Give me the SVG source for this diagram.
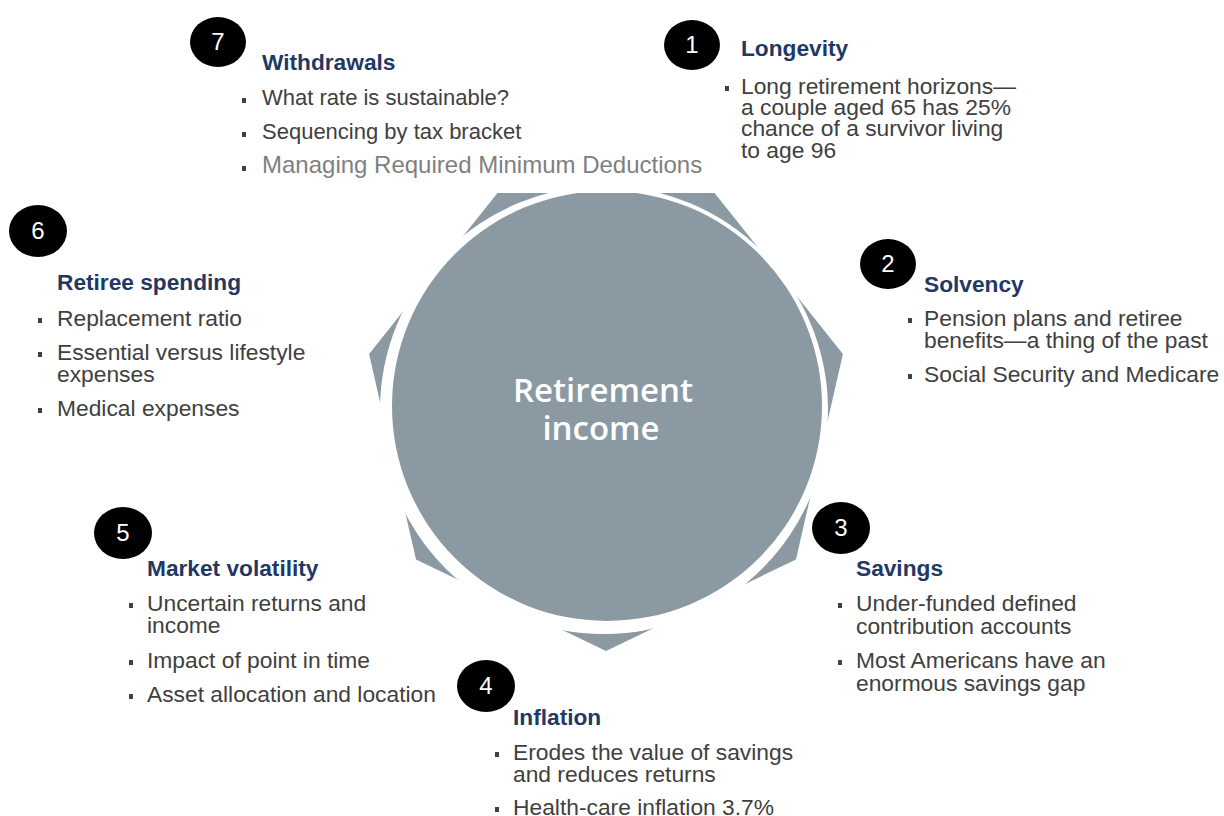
<svg xmlns="http://www.w3.org/2000/svg" width="1224" height="816" viewBox="0 0 1224 816">
  <defs>
    <clipPath id="topcut">
      <rect x="0" y="193" width="1224" height="623"/>
    </clipPath>
    <style>
      .hub { fill: #8b9aa2; }
      .badge { fill: #000000; }
      .num { font-family: "Liberation Sans", Arial, sans-serif; font-size: 24px; fill: #ffffff; text-anchor: middle; }
      .title { font-family: "Liberation Sans", Arial, sans-serif; font-size: 22.7px; font-weight: bold; fill: #1f3864; }
      .body { font-family: "Liberation Sans", Arial, sans-serif; font-size: 22.8px; fill: #404040; }
      .w22 { font-size: 22px; }
      .light { fill: #7f7f7f; font-size: 24px; }
      .bullet { fill: #404040; }
      .center { font-family: "Open Sans", "Liberation Sans", sans-serif; font-size: 33px; font-weight: 600; fill: #ffffff; text-anchor: middle; }
    </style>
  </defs>
  <rect width="1224" height="816" fill="#ffffff"/>

  <g id="hub" clip-path="url(#topcut)">
    <polygon class="hub" points="606,651 796,559.5 842.9,353.9 711.4,189.1 500.6,189.1 369.1,353.9 416,559.5"/>
    <circle cx="604" cy="410" r="224" fill="#ffffff"/>
    <circle class="hub" cx="607" cy="406" r="215"/>
    <text class="center" x="603" y="402">Retirement</text>
    <text class="center" x="601" y="440">income</text>
  </g>

  <g id="node-7-withdrawals">
    <ellipse class="badge" cx="218" cy="42" rx="28" ry="25"/>
    <text class="num" x="218" y="50">7</text>
    <text class="title" x="262" y="70">Withdrawals</text>
    <rect class="bullet" x="242" y="98" width="4" height="5"/>
    <text class="body w22" x="262" y="105">What rate is sustainable?</text>
    <rect class="bullet" x="242" y="132" width="4" height="5"/>
    <text class="body w22" x="262" y="139">Sequencing by tax bracket</text>
    <rect class="bullet" x="242" y="166" width="4" height="5"/>
    <text class="body light" x="262" y="173">Managing Required Minimum Deductions</text>
  </g>

  <g id="node-1-longevity">
    <ellipse class="badge" cx="692" cy="45" rx="28" ry="25"/>
    <text class="num" x="692" y="53">1</text>
    <text class="title" x="741" y="56">Longevity</text>
    <rect class="bullet" x="725" y="86" width="4" height="5"/>
    <text class="body" x="741" y="94">Long retirement horizons—</text>
    <text class="body" x="741" y="115">a couple aged 65 has 25%</text>
    <text class="body" x="741" y="136">chance of a survivor living</text>
    <text class="body" x="741" y="158">to age 96</text>
  </g>

  <g id="node-6-retiree-spending">
    <ellipse class="badge" cx="38" cy="231" rx="29" ry="26"/>
    <text class="num" x="38" y="239">6</text>
    <text class="title" x="57" y="290">Retiree spending</text>
    <rect class="bullet" x="38" y="318" width="4" height="5"/>
    <text class="body" x="57" y="326">Replacement ratio</text>
    <rect class="bullet" x="38" y="352" width="4" height="5"/>
    <text class="body" x="57" y="360">Essential versus lifestyle</text>
    <text class="body" x="57" y="382">expenses</text>
    <rect class="bullet" x="38" y="408" width="4" height="5"/>
    <text class="body" x="57" y="416">Medical expenses</text>
  </g>

  <g id="node-2-solvency">
    <ellipse class="badge" cx="888" cy="264" rx="28" ry="25"/>
    <text class="num" x="888" y="272">2</text>
    <text class="title" x="924" y="292">Solvency</text>
    <rect class="bullet" x="908" y="318" width="4" height="5"/>
    <text class="body" x="924" y="326">Pension plans and retiree</text>
    <text class="body" x="924" y="348">benefits—a thing of the past</text>
    <rect class="bullet" x="908" y="374" width="4" height="5"/>
    <text class="body" x="924" y="382">Social Security and Medicare</text>
  </g>

  <g id="node-5-market-volatility">
    <ellipse class="badge" cx="123" cy="533" rx="29" ry="26"/>
    <text class="num" x="123" y="541">5</text>
    <text class="title" x="147" y="576">Market volatility</text>
    <rect class="bullet" x="129" y="603" width="4" height="5"/>
    <text class="body" x="147" y="611">Uncertain returns and</text>
    <text class="body" x="147" y="633">income</text>
    <rect class="bullet" x="129" y="660" width="4" height="5"/>
    <text class="body" x="147" y="668">Impact of point in time</text>
    <rect class="bullet" x="129" y="694" width="4" height="5"/>
    <text class="body" x="147" y="702">Asset allocation and location</text>
  </g>

  <g id="node-3-savings">
    <ellipse class="badge" cx="841" cy="528" rx="29" ry="26"/>
    <text class="num" x="841" y="536">3</text>
    <text class="title" x="856" y="576">Savings</text>
    <rect class="bullet" x="838" y="603" width="4" height="5"/>
    <text class="body" x="856" y="611">Under-funded defined</text>
    <text class="body" x="856" y="634">contribution accounts</text>
    <rect class="bullet" x="838" y="660" width="4" height="5"/>
    <text class="body" x="856" y="668">Most Americans have an</text>
    <text class="body" x="856" y="691">enormous savings gap</text>
  </g>

  <g id="node-4-inflation">
    <ellipse class="badge" cx="486" cy="686" rx="29" ry="26"/>
    <text class="num" x="486" y="694">4</text>
    <text class="title" x="513" y="725">Inflation</text>
    <rect class="bullet" x="495" y="752" width="4" height="5"/>
    <text class="body" x="513" y="760">Erodes the value of savings</text>
    <text class="body" x="513" y="782">and reduces returns</text>
    <rect class="bullet" x="495" y="807" width="4" height="5"/>
    <text class="body" x="513" y="815">Health-care inflation 3.7%</text>
  </g>
</svg>
